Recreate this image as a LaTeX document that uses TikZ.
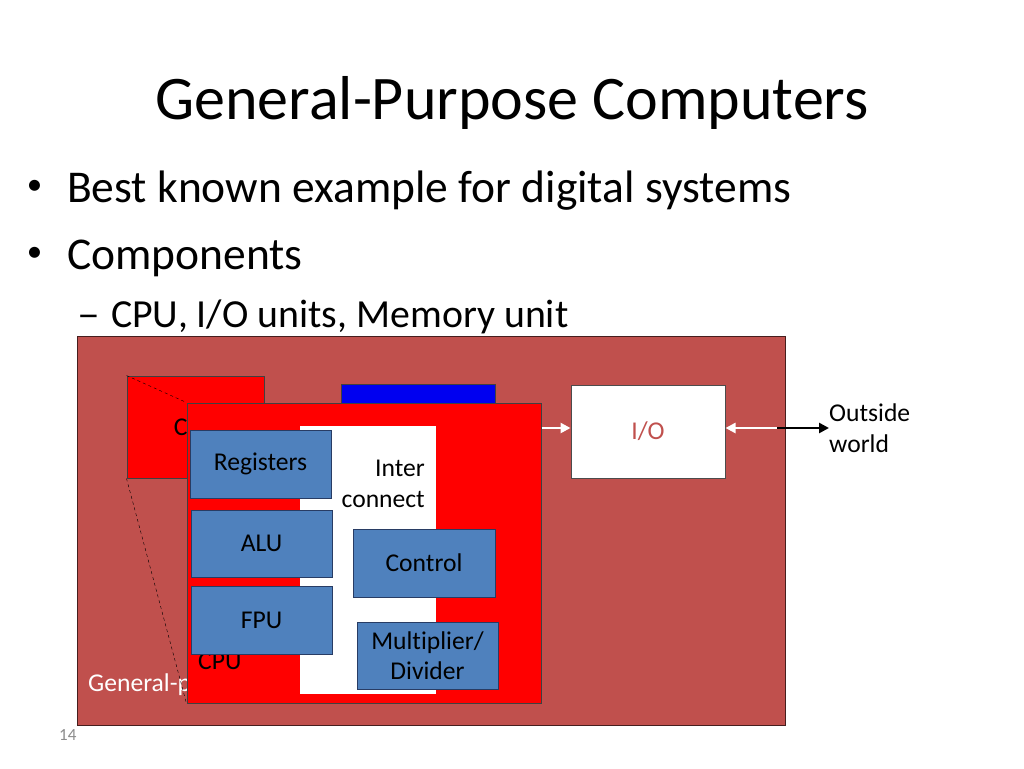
\documentclass[tikz,border=0pt]{standalone}
\usepackage{fontspec}
\setmainfont{Carlito}[Ligatures=NoCommon]
\usetikzlibrary{arrows.meta, positioning}
\definecolor{cBrown}{RGB}{192,80,77}
\definecolor{cBrownEdge}{RGB}{70,30,30}
\definecolor{cRed}{RGB}{255,0,0}
\definecolor{cBlue}{RGB}{0,0,240}
\definecolor{cSteel}{RGB}{79,129,189}
\definecolor{cSteelEdge}{RGB}{40,60,100}
\definecolor{cPageNo}{RGB}{140,140,140}
\newcommand{\fsz}[2]{\fontsize{#1}{#2}\selectfont}
\tikzset{
  basebox/.style={rectangle, draw=black!80, line width=1pt, inner sep=0pt,
                  align=center, font=\fsz{25.6}{30.5}},
  systembox/.style={basebox, fill=cBrown, draw=cBrownEdge},
  cpubox/.style={basebox, fill=cRed, draw=black!75},
  membox/.style={basebox, fill=cBlue, draw=black!75},
  iobox/.style={basebox, fill=white, draw=black!70, text=cBrown},
  wirebox/.style={basebox, fill=white, draw=white},
  unitbox/.style={basebox, fill=cSteel, draw=cSteelEdge},
  lbl/.style={inner sep=0pt, font=\fsz{25.6}{30.5}, align=center},
  slidetext/.style={inner sep=0pt, anchor=base west},
  bulletmark/.style={inner sep=0pt, anchor=center, font=\fsz{31}{36}},
  whitearrow/.style={-{Triangle[length=10pt,width=10pt]}, line width=2.8pt, color=white},
  blackarrow/.style={-{Triangle[length=10pt,width=10pt]}, line width=2.8pt, color=black},
  zoomline/.style={dashed, thin, color=black}
}
\begin{document}
\begin{tikzpicture}[x=1pt, y=-1pt]
  \useasboundingbox[fill=white] (0,0) rectangle (1024,768);

  % Slide text
  \node[inner sep=0pt, anchor=base] (title) at (512,119) {\fsz{62}{74}General-Purpose Computers};
  \node[bulletmark] (b1) at (34.5,187) {•};
  \node[slidetext] (t1) at (67,202) {\fsz{45.5}{54}Best known example for digital systems};
  \node[bulletmark] (b2) at (34.5,254) {•};
  \node[slidetext] (t2) at (67,269) {\fsz{45.5}{54}Components};
  \node[slidetext] (d3) at (77,327) {\fsz{39.8}{48}\scalebox{1.15}[1]{–}};
  \node[slidetext] (t3) at (111,327) {\fsz{39.8}{48}CPU, I/O units, Memory unit};

  % System frame
  \node[systembox, minimum width=708pt, minimum height=389pt] (sys) at (431,530.5) {};
  \node[lbl, anchor=west, text=white] (syslbl) at (88,685) {General-p};

  % Top row
  \node[cpubox, minimum width=137pt, minimum height=102pt] (cpuback) at (195.5,427) {CPU};
  \node[membox, minimum width=154pt, minimum height=94pt] (mem) at (418,431) {};
  \node[iobox, minimum width=154pt, minimum height=93pt] (io) at (648,431.5) {I/O};

  % Connections
  \coordinate (outstart) at (777,428);
  \node[lbl, anchor=west, align=left] (world) at (829,428) {Outside\\world};
  \draw[whitearrow] (sys.east |- outstart) -- (io.east |- outstart);
  \draw[blackarrow] (outstart) -- (world.west);

  % Zoomed CPU
  \node[cpubox, minimum width=354pt, minimum height=300pt] (cpu) at (364,553) {};
  \draw[zoomline] (cpuback.north west) -- (cpu.north west);
  \draw[zoomline] (cpuback.south west) -- (cpu.south west);
  \draw[whitearrow] (cpu.east |- outstart) -- (io.west |- outstart);
  \node[lbl, anchor=west] (cpulbl) at (198,661) {CPU};

  \node[wirebox, minimum width=135pt, minimum height=267pt] (wire) at (367.5,559.5) {};
  \node[lbl, anchor=east, align=right] (wirelbl) at (425,484) {Inter\\connect};

  \node[unitbox, minimum width=141pt, minimum height=68pt] (regs) at (260.5,464) {Registers};
  \node[unitbox, minimum width=141pt, minimum height=67pt] (alu) at (261.5,543.5) {ALU};
  \node[unitbox, minimum width=141pt, minimum height=68pt] (fpu) at (261.5,620) {FPU};
  \node[unitbox, minimum width=142pt, minimum height=68pt] (ctrl) at (424,563) {Control};
  \node[unitbox, minimum width=141pt, minimum height=67pt] (muldiv) at (427.5,655.5) {Multiplier/\\Divider};

  % Page number
  \node[inner sep=0pt, anchor=base west, text=cPageNo, font=\fsz{17}{20}] (pageno) at (59,740) {14};
\end{tikzpicture}
\end{document}
